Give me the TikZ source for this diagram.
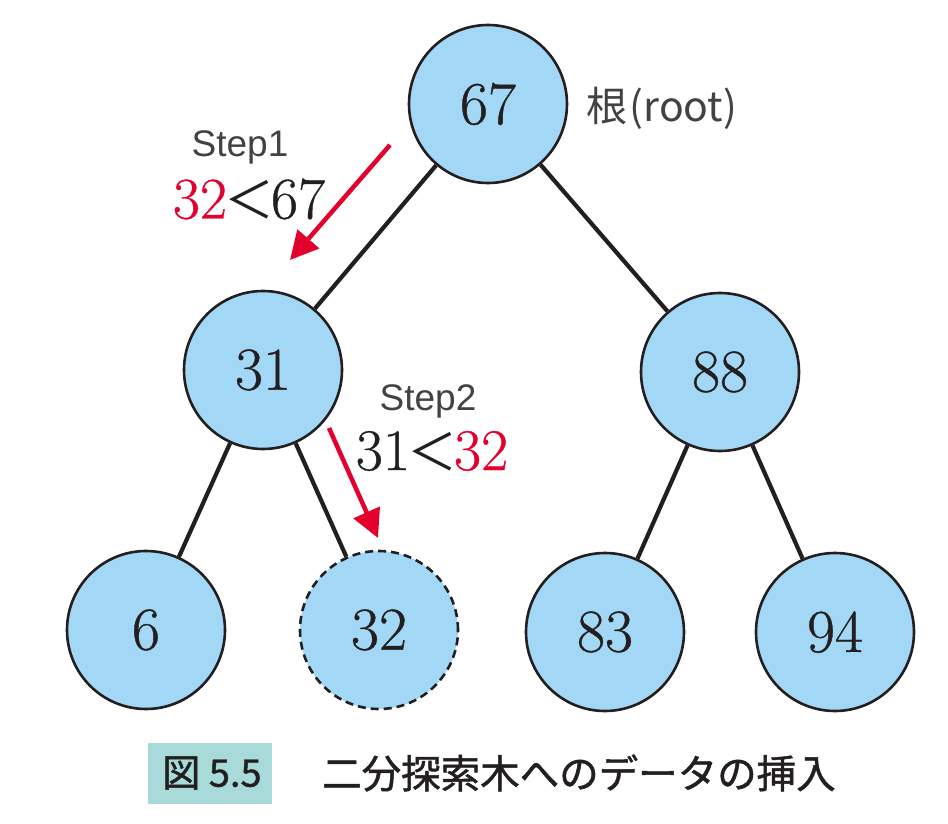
\documentclass[tikz,border=0pt]{standalone}
\usepackage{fontspec}
\newfontfamily\jp{Noto Sans CJK JP}
\newfontfamily\jpb[FakeBold=1.2]{Noto Sans CJK JP}
\newfontfamily\helv{Liberation Sans}
\newfontfamily\numfont[FakeBold=0.6]{Latin Modern Roman}
\usetikzlibrary{arrows.meta}
\definecolor{nodefill}{RGB}{162,216,245}
\definecolor{ink}{RGB}{35,31,32}
\definecolor{redarrow}{RGB}{228,0,45}
\definecolor{capbox}{RGB}{168,218,218}
\newcommand{\lessmark}{\hspace{-3pt}{\jp\fontsize{50}{50}\selectfont ＜}\hspace{-3pt}}
\tikzset{
  bnode/.style={circle, draw=ink, line width=2.6pt, fill=nodefill, minimum size=158pt, inner sep=0pt, font=\numfont\fontsize{61}{61}\selectfont, text=ink},
  newnode/.style={bnode, dashed, dash pattern=on 8pt off 5pt},
  edge/.style={draw=ink, line width=4.2pt},
  redarr/.style={draw=redarrow, line width=4.5pt, -{Triangle[length=28pt, width=28pt]}},
  steplabel/.style={font=\helv\fontsize{37}{37}\selectfont, text=ink!85, inner sep=0pt},
  cmplabel/.style={font=\numfont\fontsize{59}{59}\selectfont, text=ink, inner sep=0pt}
}
\begin{document}
\begin{tikzpicture}[x=1pt,y=-1pt]
\useasboundingbox (0,0) rectangle (948,824);
% nodes
\node[bnode] (n67) at (488,104) {67};
\node[bnode] (n31) at (263,370) {31};
\node[bnode] (n88) at (720,372) {88};
\node[bnode] (n6) at (146,630) {6};
\node[newnode] (n32) at (379,630) {32};
\node[bnode] (n83) at (605,632) {83};
\node[bnode] (n94) at (835,632) {94};
% edges
\draw[edge] (n67) -- (n31);
\draw[edge] (n67) -- (n88);
\draw[edge] (n31) -- (n6);
\draw[edge] (n31) -- (n32);
\draw[edge] (n88) -- (n83);
\draw[edge] (n88) -- (n94);
% root label
\node[font=\jp\fontsize{41}{41}\selectfont, text=ink!85, inner sep=0pt] (root) at (662,108) {根\hspace{2pt}(root)};
% step 1
\node[steplabel] (s1) at (240,147) {Step1};
\node[cmplabel] (c1) at (249,199) {\textcolor{redarrow}{32}\lessmark 67};
\coordinate (a1s) at (390,145);
\coordinate (a1e) at (290,260);
\draw[redarr] (a1s) -- (a1e);
% step 2
\node[steplabel] (s2) at (428,401) {Step2};
\node[cmplabel] (c2) at (432,451) {31\lessmark\textcolor{redarrow}{32}};
\coordinate (a2s) at (329,428);
\coordinate (a2e) at (378,538);
\draw[redarr] (a2s) -- (a2e);
% caption
\node[fill=capbox, minimum width=124pt, minimum height=61pt, inner sep=0pt] (cbox) at (210,773) {};
\node[font=\jpb\fontsize{38}{38}\selectfont, text=ink, inner sep=0pt] (cnum) at (212,773) {図 5.5};
\node[font=\jpb\fontsize{39.5}{39.5}\selectfont, text=ink, inner sep=0pt, anchor=west] (ctext) at (322,773) {二分探索木へのデータの挿入};
\end{tikzpicture}
\end{document}
